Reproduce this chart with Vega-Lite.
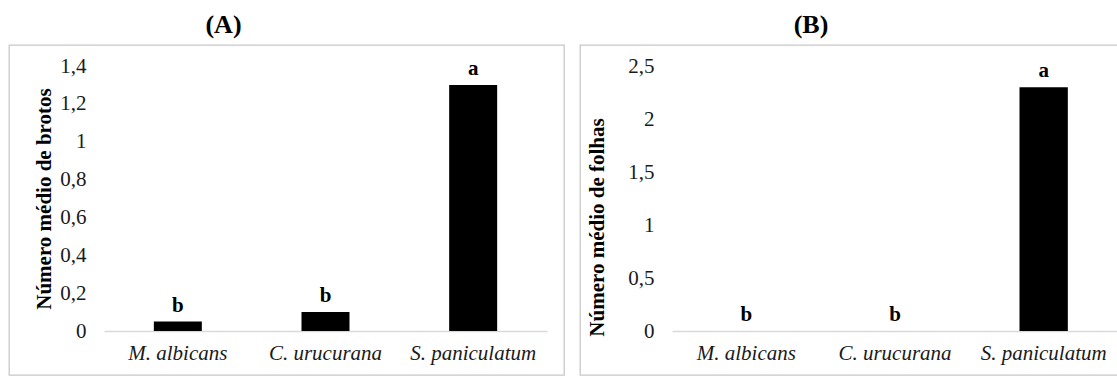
{
  "$schema": "https://vega.github.io/schema/vega-lite/v6.json",
  "padding": {"left": 8, "top": 11, "right": 0, "bottom": 0},
  "autosize": {"type": "pad"},
  "background": "white",
  "spacing": 14,
  "datasets": {
    "brotos": [
      {"especie": "M. albicans", "valor": 0.05, "letra": "b"},
      {"especie": "C. urucurana", "valor": 0.1, "letra": "b"},
      {"especie": "S. paniculatum", "valor": 1.3, "letra": "a"}
    ],
    "folhas": [
      {"especie": "M. albicans", "valor": 0, "letra": "b"},
      {"especie": "C. urucurana", "valor": 0, "letra": "b"},
      {"especie": "S. paniculatum", "valor": 2.3, "letra": "a"}
    ]
  },
  "hconcat": [
    {
      "width": 555,
      "height": 330,
      "title": {"text": "(A)", "fontSize": 26, "fontWeight": "bold", "anchor": "middle", "dx": -63, "offset": 7, "color": "black", "font": "Liberation Serif"},
      "data": {"name": "brotos"},
      "encoding": {
        "x": {
          "field": "especie", "type": "nominal", "sort": null,
          "scale": {"range": [95, 538], "paddingInner": 0.675, "paddingOuter": 0.3375},
          "axis": {"title": null, "orient": "bottom", "offset": -44, "labelAngle": 0, "labelFontStyle": "italic", "labelPadding": 11}
        },
        "y": {
          "field": "valor", "type": "quantitative",
          "scale": {"domain": [0, 1.4], "range": [286, 21], "nice": false},
          "axis": {"title": "Número médio de brotos", "offset": -95, "values": [0, 0.2, 0.4, 0.6, 0.8, 1, 1.2, 1.4], "labelExpr": "replace(toString(datum.value), '.', ',')", "labelPadding": 18, "titlePadding": 5}
        }
      },
      "layer": [
        {"mark": {"type": "bar", "color": "black"}},
        {"mark": {"type": "text", "baseline": "alphabetic", "dy": -10, "fontWeight": "bold", "fontSize": 21, "color": "black", "font": "Liberation Serif"}, "encoding": {"text": {"field": "letra"}}}
      ]
    },
    {
      "width": 540,
      "height": 330,
      "title": {"text": "(B)", "fontSize": 26, "fontWeight": "bold", "anchor": "middle", "dx": -39, "offset": 7, "color": "black", "font": "Liberation Serif"},
      "data": {"name": "folhas"},
      "encoding": {
        "x": {
          "field": "especie", "type": "nominal", "sort": null,
          "scale": {"range": [92, 538], "paddingInner": 0.675, "paddingOuter": 0.3375},
          "axis": {"title": null, "orient": "bottom", "offset": -44, "labelAngle": 0, "labelFontStyle": "italic", "labelPadding": 11}
        },
        "y": {
          "field": "valor", "type": "quantitative",
          "scale": {"domain": [0, 2.5], "range": [286, 21], "nice": false},
          "axis": {"title": "Número médio de folhas", "offset": -92, "values": [0, 0.5, 1, 1.5, 2, 2.5], "labelExpr": "replace(toString(datum.value), '.', ',')", "labelPadding": 18, "titlePadding": 20, "titleY": 182}
        }
      },
      "layer": [
        {"mark": {"type": "bar", "color": "black"}},
        {"mark": {"type": "text", "baseline": "alphabetic", "dy": -10, "fontWeight": "bold", "fontSize": 21, "color": "black", "font": "Liberation Serif"}, "encoding": {"text": {"field": "letra"}}}
      ]
    }
  ],
  "config": {
    "font": "Liberation Serif",
    "view": {"stroke": "#c8c8c8", "strokeWidth": 1.3},
    "axis": {
      "grid": false,
      "ticks": false,
      "labelFont": "Liberation Serif",
      "labelFontSize": 21,
      "labelColor": "#1a1a1a",
      "titleFont": "Liberation Serif",
      "titleFontSize": 21,
      "titleFontWeight": "bold",
      "titleColor": "black",
      "domainColor": "#d9d9d9",
      "domainWidth": 1.3
    },
    "axisY": {"domain": false},
    "title": {"font": "Liberation Serif"}
  }
}
